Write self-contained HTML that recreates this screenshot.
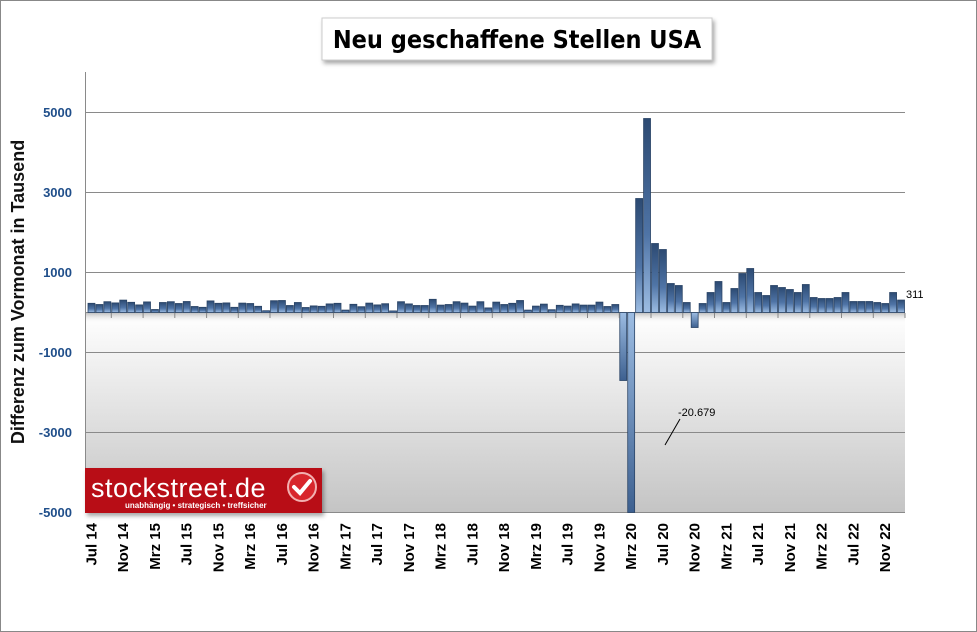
<!DOCTYPE html>
<html><head><meta charset="utf-8">
<style>
html,body{margin:0;padding:0;background:#fff}
#w{position:relative;width:977px;height:632px;overflow:hidden;font-family:"Liberation Sans",sans-serif}
</style></head>
<body><div id="w">
<svg id="s" width="977" height="632" xmlns="http://www.w3.org/2000/svg">
<defs>
<linearGradient id="bg" x1="0" y1="0" x2="0" y2="1">
<stop offset="0" stop-color="#ffffff"/><stop offset="1" stop-color="#c4c4c4"/></linearGradient>
<linearGradient id="bp" x1="0" y1="0" x2="0" y2="1">
<stop offset="0" stop-color="#2c4a72"/><stop offset="0.6" stop-color="#4f74a6"/><stop offset="1" stop-color="#9dbde3"/></linearGradient>
<linearGradient id="bn" x1="0" y1="0" x2="0" y2="1">
<stop offset="0" stop-color="#9dbde3"/><stop offset="1" stop-color="#3d6090"/></linearGradient>
<linearGradient id="sh" x1="0" y1="0" x2="0" y2="1">
<stop offset="0" stop-color="#999" stop-opacity="0.6"/><stop offset="1" stop-color="#fff" stop-opacity="0"/></linearGradient>
<filter id="ds" x="-10%" y="-10%" width="130%" height="140%"><feDropShadow dx="2" dy="3" stdDeviation="2" flood-color="#000" flood-opacity="0.35"/></filter>
</defs>
<rect x="0.5" y="0.5" width="976" height="631" fill="#fff" stroke="#888"/>
<rect x="86" y="313" width="819" height="200" fill="url(#bg)"/>
<rect x="86" y="313" width="819" height="10" fill="url(#sh)"/>
<g stroke="#8a8a8a" stroke-width="1">
<line x1="86" y1="112.5" x2="905" y2="112.5"/>
<line x1="86" y1="192.5" x2="905" y2="192.5"/>
<line x1="86" y1="272.5" x2="905" y2="272.5"/>
<line x1="86" y1="352.5" x2="905" y2="352.5"/>
<line x1="86" y1="432.5" x2="905" y2="432.5"/>
<line x1="86" y1="512.5" x2="905" y2="512.5"/>
<line x1="85.5" y1="72" x2="85.5" y2="513"/>
<line x1="86" y1="312.5" x2="905" y2="312.5"/>
</g>
<g id="bars"></g>
<g id="ticks" stroke="#888"></g>
<g font-size="13" font-weight="bold" fill="#1f4e8a" text-anchor="end">
<text x="72" y="117">5000</text><text x="72" y="197">3000</text><text x="72" y="277">1000</text>
<text x="72" y="357">-1000</text><text x="72" y="437">-3000</text><text x="72" y="517">-5000</text>
</g>
<text transform="translate(24,292) rotate(-90)" text-anchor="middle" font-size="18" font-weight="bold" fill="#111">Differenz zum Vormonat in Tausend</text>
<g id="xl" font-size="15" font-weight="bold" fill="#000"></g>
<text x="906" y="298" font-size="11" fill="#000">311</text>
<text x="678" y="416" font-size="11" fill="#000">-20.679</text>
<line x1="665" y1="445" x2="680" y2="419" stroke="#000" stroke-width="1"/>
<rect x="322" y="18" width="390" height="42" fill="#fff" stroke="#ccc" filter="url(#ds)"/>
<text x="517" y="48" text-anchor="middle" font-size="25" fill="#000" style="font-family:'DejaVu Sans Condensed','Liberation Sans Narrow','Liberation Sans',sans-serif;font-weight:600">Neu geschaffene Stellen USA</text>
<rect x="85" y="468" width="237" height="45" fill="#b80a12" filter="url(#ds)"/>
<text x="91" y="497" font-size="27" fill="#fff" letter-spacing="0.5">stockstreet.de</text>
<text x="125" y="508" font-size="8" font-weight="bold" fill="#fff">unabhängig • strategisch • treffsicher</text>
<circle cx="302" cy="487" r="14" fill="#d8262c" stroke="#f2b0b0" stroke-width="2"/>
<path d="M294 487 l6 6 l10 -12" stroke="#fff" stroke-width="4" fill="none" stroke-linecap="round"/>
</svg>
<script>
var pre=[230,200,270,240,310,255,190,265,75,250,270,225,275,150,130,290,230,240,130,235,225,155,45,295,300,175,250,125,165,155,215,230,60,205,145,235,190,220,40,270,215,175,175,330,185,200,270,235,160,270,115,260,200,230,300,60,160,210,70,180,160,215,185,185,260,150,200];
var post=[2850,4850,1725,1575,725,675,250,-375,225,500,775,250,600,975,1100,500,425,675,625,575,500,700,375,350,350,375,500,275,275,275,250,225,500,311];
var v=pre.concat([-1700,-20679]).concat(post);
var x0=87.5,w=(905-x0)/103,z=312.5,h='';
for(var i=0;i<v.length;i++){var x=x0+i*w,val=v[i],y,hh,f;
if(val>=0){y=z-val*0.04;hh=z-y;f='url(#bp)';}else{y=z;hh=Math.min(-val*0.04,200);f='url(#bn)';}
h+='<rect x="'+(x+0.5).toFixed(2)+'" y="'+y.toFixed(2)+'" width="'+(w-1).toFixed(2)+'" height="'+hh.toFixed(2)+'" fill="'+f+'" stroke="#2a4466" stroke-width="0.8"/>';}
document.getElementById('bars').innerHTML=h;
var L=['Jul 14','Nov 14','Mrz 15','Jul 15','Nov 15','Mrz 16','Jul 16','Nov 16','Mrz 17','Jul 17','Nov 17','Mrz 18','Jul 18','Nov 18','Mrz 19','Jul 19','Nov 19','Mrz 20','Jul 20','Nov 20','Mrz 21','Jul 21','Nov 21','Mrz 22','Jul 22','Nov 22'];
var t='',s='';
for(var k=0;k<L.length;k++){var cx=x0+(k*4+0.5)*w;
s+='<text transform="translate('+(cx+5).toFixed(1)+',523) rotate(-90)" text-anchor="end">'+L[k]+'</text>';
var tx=x0+(k*4+3)*w;t+='<line x1="'+tx.toFixed(1)+'" y1="313" x2="'+tx.toFixed(1)+'" y2="318"/>';}
document.getElementById('xl').innerHTML=s;document.getElementById('ticks').innerHTML=t;
</script>
</div></body></html>
